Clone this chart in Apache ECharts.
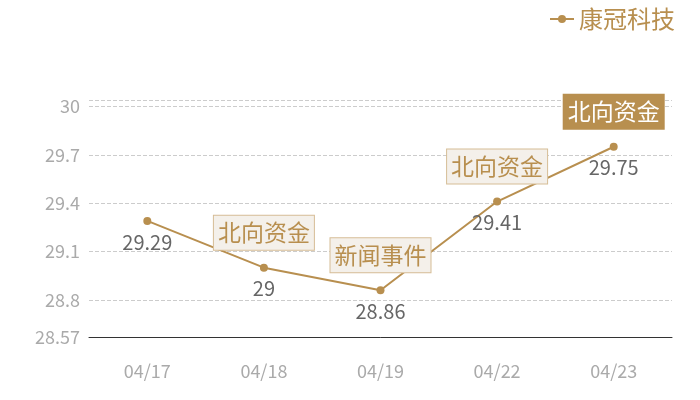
<!DOCTYPE html>
<html>
<head>
<meta charset="utf-8">
<script src="https://cdn.jsdelivr.net/npm/echarts@6/dist/echarts.min.js"></script>
<style>
  html, body { margin: 0; padding: 0; background: #fff; }
  #chart { width: 700px; height: 400px; }
</style>
</head>
<body>
<div id="chart"></div>
<script>
// --- DATA ---
const dates = ['04/17', '04/18', '04/19', '04/22', '04/23'];
const prices = [29.29, 29.0, 28.86, 29.41, 29.75];
const events = ['', '北向资金', '新闻事件', '北向资金', '北向资金'];
const highlightIndex = 4;
const yTicks = [28.57, 28.8, 29.1, 29.4, 29.7, 30];
const yMin = 28.57;
const yMax = 30.04;

const gold = '#b88f4f';
const font = '"Noto Sans CJK SC", "Noto Sans", sans-serif';

// --- ANNOTATIONS ---
const markData = events.map((ev, i) => {
    if (!ev) return null;
    const hi = i === highlightIndex;
    return {
        name: ev,
        coord: [dates[i], prices[i]],
        label: {
            formatter: ev,
            color: hi ? '#fff' : gold,
            backgroundColor: hi ? gold : '#f4f0ea',
            borderColor: hi ? gold : '#d6bd96',
            borderWidth: 1
        }
    };
}).filter(Boolean);

const chart = echarts.init(document.getElementById('chart'));
chart.setOption({
    animation: false,
    textStyle: { fontFamily: font },
    legend: {
        right: 20, top: 2,
        itemWidth: 24, itemHeight: 10, itemGap: 6,
        textStyle: { color: gold, fontSize: 24, fontFamily: font },
        data: ['康冠科技']
    },
    grid: { left: 89, right: 28, top: 100, bottom: 63 },
    xAxis: {
        type: 'category',
        data: dates,
        boundaryGap: true,
        axisLine: { lineStyle: { color: '#333' } },
        axisTick: { show: false },
        axisLabel: { color: '#aaa', fontSize: 18, margin: 25 }
    },
    yAxis: {
        type: 'value',
        min: yMin, max: yMax,
        axisLine: { show: false },
        axisTick: { show: false, customValues: yTicks.concat([yMax]) },
        axisLabel: { color: '#aaa', fontSize: 18, margin: 9, customValues: yTicks },
        splitLine: { lineStyle: { color: '#ccc', type: 'dashed' } }
    },
    series: [{
        name: '康冠科技',
        type: 'line',
        data: prices,
        symbol: 'circle',
        symbolSize: 8,
        color: gold,
        lineStyle: { color: gold, width: 2 },
        label: {
            show: true, position: 'bottom', distance: 7,
            color: '#666', fontSize: 20
        },
        markPoint: {
            symbol: 'circle', symbolSize: 0,
            label: {
                show: true, position: 'top', distance: 18,
                fontSize: 23, padding: [2, 4], lineHeight: 30
            },
            data: markData
        }
    }]
});
</script>
</body>
</html>
